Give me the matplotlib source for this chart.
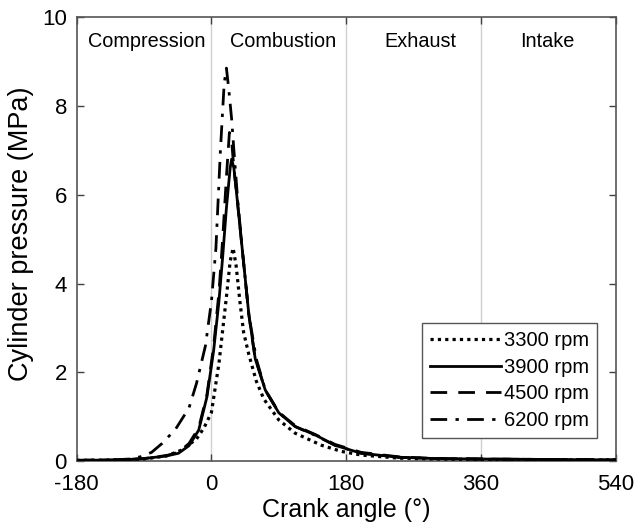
import matplotlib
matplotlib.use("Agg")
import matplotlib.pyplot as plt

plt.rcParams['font.family'] = ['Liberation Sans', 'DejaVu Sans']
plt.rcParams['axes.unicode_minus'] = False

# Data (crank angle in degrees, pressure in MPa)
x_3300 = [-180, -120, -90, -60, -40, -20, -10, 0, 10, 20, 25, 29, 33, 38, 43, 50, 60, 70, 90, 112, 147, 174, 200, 250, 300, 360, 450, 540]
y_3300 = [0.02, 0.03, 0.05, 0.12, 0.25, 0.5, 0.75, 1.1, 2.2, 3.7, 4.5, 4.8, 4.4, 3.6, 2.9, 2.4, 1.8, 1.4, 0.93, 0.63, 0.36, 0.22, 0.14, 0.07, 0.05, 0.04, 0.03, 0.03]

x_3900 = [-180, -120, -90, -60, -44, -30, -17, -6, 3, 10, 15, 20, 25, 27, 30, 35, 41, 50, 58.6, 72, 90, 112, 139, 165, 200, 250, 300, 360, 450, 540]
y_3900 = [0.02, 0.03, 0.06, 0.12, 0.18, 0.35, 0.7, 1.45, 2.5, 3.6, 4.6, 5.7, 6.6, 6.8, 6.6, 5.8, 4.8, 3.3, 2.3, 1.6, 1.09, 0.78, 0.59, 0.36, 0.18, 0.09, 0.06, 0.05, 0.04, 0.03]

x_4500 = [-180, -120, -90, -60, -44, -30, -17, -6, 3, 10, 15, 20, 24, 27, 30, 35, 41, 50, 58, 72, 90, 112, 139, 165, 200, 250, 300, 360, 450, 540]
y_4500 = [0.02, 0.03, 0.06, 0.13, 0.2, 0.4, 0.75, 1.5, 2.6, 3.8, 5.0, 6.4, 7.4, 7.2, 6.6, 5.8, 4.8, 3.3, 2.35, 1.6, 1.1, 0.8, 0.6, 0.38, 0.2, 0.1, 0.06, 0.05, 0.04, 0.03]

x_6200 = [-180, -130, -110, -95, -80, -66, -48, -30, -20, -8, 0, 6, 12, 17, 20, 23, 27, 30, 35, 41, 50, 60, 72, 90, 112, 139, 165, 200, 250, 300, 360, 450, 540]
y_6200 = [0.02, 0.03, 0.05, 0.1, 0.2, 0.4, 0.72, 1.2, 1.75, 2.6, 3.6, 4.8, 7.0, 8.5, 8.85, 8.4, 7.7, 7.0, 5.9, 4.8, 3.3, 2.3, 1.6, 1.1, 0.78, 0.58, 0.36, 0.18, 0.09, 0.06, 0.05, 0.04, 0.03]

labels = ["3300 rpm", "3900 rpm", "4500 rpm", "6200 rpm"]
phases = ["Compression", "Combustion", "Exhaust", "Intake"]
phase_x = [-86, 96, 279, 449]
x_ticks = [-180, 0, 180, 360, 540]
y_ticks = [0, 2, 4, 6, 8, 10]

fig = plt.figure(figsize=(6.34, 5.32), dpi=100)
ax = fig.add_axes([0.121, 0.133, 0.850, 0.835])

for xv in [0, 180, 360]:
    ax.axvline(xv, color='#cfcfcf', lw=1.0, zorder=1)

ax.plot(x_3300, y_3300, color='black', lw=2.3, linestyle=(0, (1, 1.3)), label=labels[0], zorder=3)
ax.plot(x_3900, y_3900, color='black', lw=2.0, linestyle='-', label=labels[1], zorder=3)
ax.plot(x_4500, y_4500, color='black', lw=2.0, linestyle=(0, (6, 4)), label=labels[2], zorder=3)
ax.plot(x_6200, y_6200, color='black', lw=2.0, linestyle=(0, (6, 3, 1.2, 3)), label=labels[3], zorder=3)

for name, px in zip(phases, phase_x):
    ax.text(px, 9.45, name, ha='center', va='center', fontsize=14.3)

ax.set_xlim(-180, 540)
ax.set_ylim(0, 10)
ax.set_xticks(x_ticks)
ax.set_yticks(y_ticks)
ax.tick_params(direction='in', length=5, width=1, top=True, right=True,
               labelsize=16, colors='#404040', labelcolor='black')
ax.tick_params(axis='x', pad=9)
ax.tick_params(axis='y', pad=7)
for s in ax.spines.values():
    s.set_color('#555555')
    s.set_linewidth(1.2)

ax.set_xlabel("Crank angle (°)", fontsize=18, labelpad=2)
ax.set_ylabel("Cylinder pressure (MPa)", fontsize=19.5)
ax.yaxis.set_label_coords(-0.080, 0.513)

leg = ax.legend(loc='upper right', bbox_to_anchor=(0.965, 0.311), fontsize=14.5,
                handlelength=3.5, handletextpad=0.15, borderpad=0.4, labelspacing=0.38,
                fancybox=False, framealpha=1, borderaxespad=0)
leg.get_frame().set_edgecolor('#555555')
leg.get_frame().set_linewidth(1.0)

fig.savefig("out.png", dpi=100)
